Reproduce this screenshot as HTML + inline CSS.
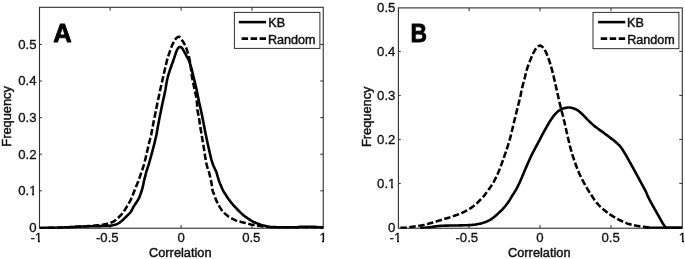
<!DOCTYPE html>
<html><head><meta charset="utf-8"><title>Figure</title>
<style>
html,body{margin:0;padding:0;background:#fff;}
svg{display:block}
text{font-family:"Liberation Sans",sans-serif;font-size:13px;fill:#111;stroke:#111;stroke-width:0.32px}
.lbl{font-size:12.8px;stroke-width:0.45px}
.tk{font-size:13.2px}
.lg{font-size:12.6px;stroke-width:0.45px}
.big{font-size:26.6px;font-weight:bold;fill:#000;stroke:#000;stroke-width:0.8px;stroke-linejoin:round}
.c{fill:none;stroke:#000;stroke-width:2.6;stroke-linejoin:round}
.d{stroke-dasharray:6.5 2.5;stroke-width:2.55}
</style></head><body>
<svg width="685" height="259" viewBox="0 0 685 259">
<rect width="685" height="259" fill="#fff"/>
<defs><clipPath id="ca"><rect x="39.5" y="7.3" width="283.75" height="221.54999999999998"/></clipPath>
<clipPath id="cb"><rect x="398.4" y="7.9" width="283.9" height="220.95"/></clipPath></defs>
<!-- Panel A -->
<rect x="39.5" y="7.3" width="283.75" height="220.95" fill="none" stroke="#2e2e2e" stroke-width="1.1"/>
<path d="M110.1,228.25 v-3.2 M110.1,7.3 v3.4" stroke="#2e2e2e" stroke-width="1"/>
<path d="M181.1,228.25 v-3.2 M181.1,7.3 v3.4" stroke="#2e2e2e" stroke-width="1"/>
<path d="M252.0,228.25 v-3.2 M252.0,7.3 v3.4" stroke="#2e2e2e" stroke-width="1"/>
<path d="M39.5,190.8 h2.4 M323.25,190.8 h-3" stroke="#2e2e2e" stroke-width="1"/>
<path d="M39.5,154.2 h2.4 M323.25,154.2 h-3" stroke="#2e2e2e" stroke-width="1"/>
<path d="M39.5,117.6 h2.4 M323.25,117.6 h-3" stroke="#2e2e2e" stroke-width="1"/>
<path d="M39.5,81.0 h2.4 M323.25,81.0 h-3" stroke="#2e2e2e" stroke-width="1"/>
<path d="M39.5,44.4 h2.4 M323.25,44.4 h-3" stroke="#2e2e2e" stroke-width="1"/>
<text class="tk" x="36.3" y="242.2" text-anchor="middle">-1</text>
<text class="tk" x="107.3" y="242.2" text-anchor="middle">-0.5</text>
<text class="tk" x="181.1" y="242.2" text-anchor="middle">0</text>
<text class="tk" x="251.3" y="242.2" text-anchor="middle">0.5</text>
<text class="tk" x="323.2" y="242.2" text-anchor="middle">1</text>
<text class="tk" x="36.5" y="231.7" text-anchor="end">0</text>
<text class="tk" x="36.5" y="195.1" text-anchor="end">0.1</text>
<text class="tk" x="36.5" y="158.5" text-anchor="end">0.2</text>
<text class="tk" x="36.5" y="121.9" text-anchor="end">0.3</text>
<text class="tk" x="36.5" y="85.3" text-anchor="end">0.4</text>
<text class="tk" x="36.5" y="48.7" text-anchor="end">0.5</text>
<g clip-path="url(#ca)"><path class="c" d="M39.70,227.95 L40.77,227.95 L41.85,227.94 L42.92,227.94 L44.00,227.93 L45.07,227.92 L46.14,227.90 L47.22,227.89 L48.29,227.87 L49.36,227.86 L50.44,227.84 L51.51,227.82 L52.58,227.80 L53.66,227.78 L54.73,227.76 L55.80,227.73 L56.88,227.71 L57.95,227.67 L59.02,227.64 L60.09,227.60 L61.17,227.56 L62.24,227.51 L63.31,227.46 L64.38,227.41 L65.46,227.36 L66.53,227.31 L67.60,227.26 L68.67,227.21 L69.75,227.16 L70.82,227.11 L71.89,227.06 L72.96,227.00 L74.04,226.94 L75.11,226.88 L76.18,226.82 L77.25,226.76 L78.32,226.70 L79.40,226.64 L80.47,226.59 L81.54,226.54 L82.61,226.50 L83.69,226.47 L84.76,226.43 L85.83,226.40 L86.91,226.37 L87.98,226.35 L89.05,226.32 L90.13,226.30 L91.20,226.27 L92.27,226.25 L93.35,226.22 L94.42,226.20 L95.49,226.18 L96.57,226.16 L97.64,226.14 L98.71,226.13 L99.79,226.11 L100.86,226.09 L101.93,226.07 L103.01,226.05 L104.08,226.03 L105.15,226.00 L106.23,225.95 L107.30,225.90 L108.37,225.83 L109.44,225.75 L110.51,225.65 L111.58,225.50 L112.64,225.30 L113.68,225.07 L114.72,224.81 L115.76,224.49 L116.79,224.10 L117.78,223.67 L118.71,223.20 L119.57,222.65 L120.40,222.02 L121.29,221.31 L122.17,220.55 L123.04,219.75 L123.89,218.92 L124.73,218.08 L125.57,217.26 L126.40,216.46 L127.24,215.66 L128.07,214.85 L128.88,214.03 L129.67,213.19 L130.43,212.33 L131.06,211.44 L131.59,210.52 L132.09,209.57 L132.59,208.61 L133.09,207.65 L133.62,206.72 L134.17,205.80 L134.74,204.88 L135.34,203.97 L135.94,203.06 L136.54,202.15 L137.14,201.24 L137.72,200.32 L138.29,199.40 L138.84,198.46 L139.28,197.52 L139.64,196.57 L139.99,195.61 L140.33,194.65 L140.67,193.69 L141.01,192.72 L141.33,191.74 L141.64,190.76 L141.94,189.78 L142.24,188.79 L142.52,187.80 L142.78,186.81 L143.02,185.81 L143.25,184.81 L143.46,183.80 L143.65,182.79 L143.83,181.77 L144.03,180.74 L144.31,179.72 L144.59,178.68 L144.86,177.65 L145.13,176.61 L145.38,175.56 L145.64,174.52 L145.89,173.47 L146.14,172.43 L146.44,171.38 L146.78,170.34 L147.13,169.29 L147.47,168.25 L147.82,167.21 L148.18,166.17 L148.53,165.13 L148.83,164.09 L149.13,163.05 L149.42,162.01 L149.71,160.97 L150.01,159.93 L150.30,158.89 L150.59,157.85 L150.88,156.81 L151.16,155.77 L151.45,154.73 L151.73,153.69 L152.01,152.64 L152.29,151.60 L152.56,150.56 L152.84,149.51 L153.12,148.47 L153.39,147.42 L153.66,146.37 L153.93,145.33 L154.19,144.28 L154.45,143.23 L154.70,142.18 L154.95,141.13 L155.20,140.07 L155.45,139.02 L155.70,137.97 L155.94,136.92 L156.18,135.86 L156.41,134.81 L156.60,133.75 L156.79,132.70 L156.98,131.64 L157.16,130.59 L157.35,129.53 L157.54,128.48 L157.73,127.42 L157.92,126.37 L158.11,125.32 L158.31,124.26 L158.50,123.21 L158.70,122.16 L158.89,121.10 L159.09,120.05 L159.30,119.00 L159.51,117.94 L159.72,116.89 L159.94,115.84 L160.15,114.79 L160.36,113.73 L160.57,112.68 L160.78,111.63 L161.00,110.57 L161.21,109.52 L161.43,108.47 L161.64,107.41 L161.86,106.36 L162.07,105.31 L162.30,104.26 L162.52,103.21 L162.75,102.16 L162.98,101.10 L163.21,100.05 L163.44,99.00 L163.67,97.95 L163.89,96.90 L164.12,95.85 L164.34,94.79 L164.57,93.74 L164.79,92.68 L165.02,91.63 L165.25,90.58 L165.45,89.53 L165.61,88.47 L165.78,87.42 L165.95,86.37 L166.13,85.32 L166.31,84.27 L166.49,83.22 L166.68,82.18 L166.87,81.13 L167.06,80.09 L167.31,79.05 L167.58,78.01 L167.84,76.97 L168.12,75.94 L168.40,74.91 L168.70,73.88 L169.01,72.85 L169.34,71.83 L169.67,70.80 L170.01,69.78 L170.35,68.76 L170.70,67.75 L171.05,66.73 L171.40,65.72 L171.76,64.71 L172.13,63.70 L172.51,62.69 L172.89,61.69 L173.26,60.68 L173.61,59.67 L173.96,58.65 L174.29,57.63 L174.62,56.61 L174.95,55.59 L175.30,54.57 L175.66,53.56 L176.01,52.53 L176.37,51.51 L176.77,50.51 L177.22,49.55 L177.76,48.61 L178.42,47.75 L179.30,47.12 L180.32,46.94 L181.34,47.39 L182.07,48.08 L182.66,49.03 L183.23,49.96 L183.77,50.89 L184.30,51.83 L184.81,52.77 L185.32,53.72 L185.82,54.66 L186.32,55.62 L186.81,56.57 L187.31,57.52 L187.84,58.46 L188.37,59.40 L188.84,60.36 L189.24,61.34 L189.60,62.35 L189.95,63.37 L190.27,64.39 L190.57,65.43 L190.87,66.47 L191.16,67.50 L191.45,68.54 L191.73,69.57 L191.99,70.61 L192.25,71.65 L192.51,72.70 L192.76,73.74 L193.01,74.79 L193.26,75.83 L193.51,76.87 L193.77,77.92 L194.02,78.96 L194.28,80.00 L194.53,81.05 L194.79,82.09 L195.04,83.13 L195.29,84.18 L195.54,85.22 L195.79,86.26 L196.04,87.31 L196.29,88.35 L196.54,89.40 L196.77,90.44 L196.98,91.49 L197.18,92.53 L197.38,93.58 L197.59,94.62 L197.79,95.67 L197.98,96.72 L198.18,97.76 L198.38,98.81 L198.57,99.86 L198.81,100.90 L199.05,101.95 L199.29,103.00 L199.52,104.05 L199.76,105.10 L199.99,106.14 L200.23,107.19 L200.46,108.24 L200.69,109.29 L200.92,110.34 L201.15,111.39 L201.38,112.44 L201.61,113.49 L201.84,114.55 L202.06,115.60 L202.28,116.65 L202.48,117.70 L202.69,118.75 L202.89,119.80 L203.10,120.85 L203.31,121.90 L203.51,122.95 L203.71,124.00 L203.91,125.06 L204.11,126.11 L204.31,127.16 L204.51,128.21 L204.71,129.27 L204.90,130.32 L205.11,131.37 L205.33,132.42 L205.55,133.48 L205.76,134.53 L205.98,135.58 L206.20,136.63 L206.42,137.69 L206.64,138.74 L206.86,139.79 L207.09,140.84 L207.31,141.89 L207.54,142.94 L207.76,143.99 L207.99,145.05 L208.22,146.10 L208.46,147.15 L208.71,148.21 L208.95,149.26 L209.19,150.32 L209.43,151.37 L209.67,152.43 L209.91,153.49 L210.16,154.54 L210.41,155.59 L210.66,156.65 L210.91,157.70 L211.17,158.75 L211.44,159.79 L211.75,160.84 L212.08,161.88 L212.42,162.92 L212.77,163.96 L213.12,164.99 L213.56,166.02 L214.02,167.04 L214.49,168.07 L214.97,169.09 L215.46,170.11 L215.96,171.13 L216.44,172.15 L216.70,173.16 L216.97,174.17 L217.25,175.18 L217.53,176.19 L217.83,177.19 L218.13,178.19 L218.44,179.19 L218.75,180.18 L219.08,181.17 L219.46,182.15 L219.84,183.13 L220.23,184.11 L220.63,185.09 L221.04,186.07 L221.46,187.05 L221.88,188.02 L222.32,188.99 L222.76,189.95 L223.27,190.91 L223.84,191.86 L224.42,192.81 L225.02,193.74 L225.62,194.67 L226.23,195.59 L226.82,196.50 L227.38,197.40 L227.98,198.29 L228.60,199.17 L229.24,200.04 L229.89,200.90 L230.56,201.75 L231.23,202.58 L231.91,203.41 L232.60,204.23 L233.30,205.05 L234.01,205.86 L234.73,206.66 L235.46,207.45 L236.20,208.23 L236.95,209.00 L237.71,209.75 L238.44,210.49 L239.15,211.22 L239.87,211.94 L240.60,212.65 L241.35,213.35 L242.11,214.04 L242.88,214.72 L243.66,215.39 L244.46,216.04 L245.32,216.68 L246.19,217.29 L247.07,217.90 L247.96,218.51 L248.86,219.11 L249.77,219.70 L250.69,220.27 L251.62,220.81 L252.56,221.34 L253.51,221.83 L254.47,222.28 L255.44,222.72 L256.42,223.13 L257.42,223.54 L258.43,223.92 L259.45,224.29 L260.47,224.64 L261.50,224.97 L262.53,225.27 L263.57,225.54 L264.60,225.80 L265.65,226.06 L266.70,226.31 L267.76,226.54 L268.82,226.74 L269.88,226.89 L270.94,226.99 L272.01,227.03 L273.07,227.07 L274.14,227.11 L275.21,227.15 L276.29,227.18 L277.36,227.21 L278.44,227.23 L279.51,227.25 L280.59,227.27 L281.67,227.28 L282.74,227.29 L283.82,227.30 L284.89,227.30 L285.97,227.30 L287.04,227.30 L288.11,227.29 L289.19,227.28 L290.26,227.28 L291.34,227.27 L292.41,227.25 L293.48,227.24 L294.56,227.22 L295.63,227.21 L296.70,227.18 L297.77,227.10 L298.84,227.00 L299.91,226.89 L300.98,226.79 L302.05,226.72 L303.13,226.70 L304.20,226.70 L305.27,226.70 L306.35,226.70 L307.42,226.70 L308.50,226.70 L309.57,226.70 L310.64,226.70 L311.72,226.70 L312.79,226.72 L313.86,226.79 L314.93,226.90 L315.99,227.03 L317.06,227.13 L318.14,227.21 L319.21,227.26 L320.28,227.31 L321.35,227.35 L322.43,227.38 L323.50,227.40"/>
<path class="c d" d="M39.70,227.95 L40.82,227.95 L41.94,227.94 L43.06,227.94 L44.18,227.93 L45.31,227.91 L46.43,227.90 L47.55,227.88 L48.67,227.87 L49.79,227.85 L50.91,227.83 L52.03,227.81 L53.15,227.79 L54.27,227.76 L55.39,227.74 L56.51,227.72 L57.63,227.68 L58.75,227.65 L59.88,227.61 L61.00,227.57 L62.12,227.52 L63.24,227.47 L64.36,227.42 L65.48,227.37 L66.60,227.32 L67.72,227.26 L68.84,227.21 L69.96,227.15 L71.07,227.10 L72.19,227.04 L73.31,226.98 L74.43,226.92 L75.55,226.85 L76.67,226.78 L77.79,226.71 L78.91,226.64 L80.03,226.57 L81.15,226.50 L82.27,226.43 L83.38,226.36 L84.50,226.29 L85.62,226.22 L86.74,226.15 L87.86,226.08 L88.98,226.01 L90.10,225.94 L91.22,225.86 L92.34,225.78 L93.45,225.69 L94.57,225.59 L95.69,225.50 L96.81,225.39 L97.93,225.28 L99.05,225.16 L100.16,225.03 L101.31,224.89 L102.47,224.73 L103.62,224.56 L104.78,224.35 L105.97,224.11 L107.17,223.82 L108.37,223.49 L109.57,223.13 L110.73,222.73 L111.86,222.29 L112.95,221.80 L114.05,221.19 L115.02,220.50 L115.98,219.74 L116.93,218.93 L117.86,218.11 L118.72,217.29 L119.51,216.49 L120.30,215.69 L121.07,214.88 L121.83,214.04 L122.56,213.19 L123.26,212.32 L123.90,211.43 L124.49,210.53 L125.06,209.60 L125.62,208.67 L126.18,207.73 L126.73,206.80 L127.29,205.86 L127.84,204.93 L128.41,203.99 L128.97,203.04 L129.51,202.09 L130.03,201.13 L130.52,200.16 L130.98,199.17 L131.42,198.18 L131.87,197.17 L132.31,196.16 L132.73,195.13 L133.15,194.10 L133.55,193.06 L133.95,192.02 L134.34,190.98 L134.75,189.93 L135.18,188.88 L135.60,187.83 L136.03,186.78 L136.46,185.73 L136.89,184.69 L137.32,183.64 L137.76,182.60 L138.20,181.56 L138.60,180.52 L138.96,179.47 L139.32,178.43 L139.67,177.38 L140.03,176.33 L140.37,175.28 L140.71,174.23 L141.04,173.18 L141.36,172.12 L141.76,171.07 L142.16,170.01 L142.55,168.94 L142.92,167.88 L143.28,166.81 L143.62,165.73 L143.95,164.65 L144.24,163.57 L144.53,162.48 L144.81,161.39 L145.08,160.30 L145.35,159.21 L145.61,158.11 L145.86,157.01 L146.12,155.91 L146.37,154.81 L146.63,153.71 L146.88,152.61 L147.14,151.51 L147.40,150.42 L147.64,149.32 L147.87,148.23 L148.11,147.13 L148.36,146.04 L148.62,144.96 L148.88,143.87 L149.15,142.78 L149.42,141.70 L149.70,140.62 L149.98,139.54 L150.26,138.45 L150.55,137.37 L150.83,136.29 L151.12,135.21 L151.33,134.13 L151.52,133.05 L151.71,131.97 L151.90,130.89 L152.08,129.80 L152.26,128.72 L152.46,127.63 L152.69,126.55 L152.92,125.46 L153.14,124.37 L153.36,123.28 L153.56,122.19 L153.77,121.10 L153.96,120.00 L154.20,118.91 L154.44,117.81 L154.67,116.71 L154.89,115.61 L155.12,114.51 L155.34,113.41 L155.56,112.31 L155.78,111.21 L156.00,110.11 L156.22,109.01 L156.44,107.91 L156.66,106.80 L156.88,105.70 L157.10,104.60 L157.32,103.50 L157.55,102.40 L157.78,101.30 L158.01,100.20 L158.25,99.11 L158.48,98.01 L158.72,96.91 L158.95,95.81 L159.19,94.72 L159.43,93.62 L159.66,92.52 L159.90,91.42 L160.14,90.33 L160.38,89.23 L160.62,88.13 L160.86,87.04 L161.11,85.94 L161.35,84.85 L161.60,83.75 L161.85,82.66 L162.09,81.56 L162.35,80.47 L162.60,79.37 L162.85,78.28 L163.11,77.19 L163.37,76.10 L163.63,75.00 L163.87,73.91 L164.10,72.82 L164.34,71.73 L164.59,70.64 L164.83,69.55 L165.08,68.46 L165.33,67.38 L165.58,66.29 L165.84,65.20 L166.09,64.12 L166.36,63.03 L166.62,61.95 L166.89,60.87 L167.16,59.78 L167.49,58.70 L167.82,57.61 L168.16,56.53 L168.50,55.45 L168.85,54.37 L169.21,53.30 L169.59,52.23 L169.94,51.17 L170.31,50.11 L170.68,49.04 L171.07,47.99 L171.47,46.93 L171.89,45.89 L172.33,44.86 L172.79,43.84 L173.28,42.84 L173.79,41.83 L174.33,40.81 L174.93,39.84 L175.58,38.95 L176.34,38.15 L177.28,37.31 L178.25,36.76 L179.12,36.84 L179.95,37.55 L180.74,38.56 L181.47,39.56 L182.15,40.43 L182.80,41.35 L183.43,42.29 L184.02,43.26 L184.57,44.24 L185.08,45.24 L185.54,46.24 L185.97,47.27 L186.38,48.32 L186.76,49.38 L187.12,50.45 L187.46,51.53 L187.79,52.60 L188.09,53.67 L188.38,54.75 L188.67,55.84 L188.94,56.93 L189.20,58.02 L189.45,59.12 L189.68,60.22 L189.90,61.32 L190.10,62.42 L190.29,63.52 L190.46,64.63 L190.61,65.74 L190.76,66.85 L190.89,67.96 L191.02,69.08 L191.15,70.19 L191.28,71.31 L191.41,72.42 L191.55,73.54 L191.70,74.65 L191.86,75.76 L192.04,76.86 L192.22,77.97 L192.42,79.07 L192.63,80.17 L192.85,81.27 L193.07,82.37 L193.30,83.47 L193.54,84.56 L193.78,85.66 L194.02,86.76 L194.26,87.85 L194.50,88.95 L194.75,90.04 L194.99,91.14 L195.22,92.24 L195.46,93.34 L195.68,94.43 L195.90,95.53 L196.12,96.63 L196.32,97.73 L196.51,98.84 L196.69,99.94 L196.80,101.05 L196.90,102.16 L196.99,103.26 L197.07,104.37 L197.15,105.49 L197.23,106.60 L197.30,107.71 L197.37,108.82 L197.44,109.94 L197.65,111.05 L197.86,112.16 L198.08,113.28 L198.30,114.39 L198.52,115.51 L198.74,116.62 L198.97,117.73 L199.13,118.84 L199.28,119.95 L199.44,121.06 L199.60,122.17 L199.76,123.28 L199.93,124.39 L200.10,125.50 L200.28,126.60 L200.45,127.71 L200.63,128.82 L200.81,129.92 L200.99,131.03 L201.18,132.14 L201.36,133.24 L201.55,134.35 L201.74,135.45 L201.93,136.56 L202.11,137.66 L202.30,138.77 L202.49,139.88 L202.68,140.98 L202.86,142.09 L203.05,143.19 L203.23,144.30 L203.41,145.41 L203.59,146.51 L203.77,147.62 L203.94,148.73 L204.11,149.84 L204.28,150.95 L204.45,152.06 L204.62,153.17 L204.79,154.28 L204.97,155.39 L205.15,156.50 L205.33,157.61 L205.51,158.71 L205.70,159.82 L205.90,160.92 L206.10,162.02 L206.31,163.12 L206.53,164.22 L206.77,165.31 L207.09,166.40 L207.42,167.49 L207.78,168.57 L208.15,169.65 L208.53,170.73 L208.93,171.80 L209.20,172.87 L209.45,173.94 L209.70,175.02 L209.96,176.09 L210.20,177.16 L210.45,178.23 L210.70,179.31 L210.95,180.39 L211.17,181.47 L211.38,182.55 L211.57,183.64 L211.75,184.74 L211.91,185.84 L212.06,186.95 L212.21,188.05 L212.35,189.16 L212.50,190.27 L212.86,191.37 L213.29,192.47 L213.72,193.57 L214.18,194.65 L214.52,195.72 L214.83,196.78 L215.18,197.83 L215.58,198.87 L216.02,199.90 L216.49,200.93 L216.99,201.94 L217.51,202.95 L218.04,203.94 L218.56,204.93 L219.10,205.92 L219.65,206.90 L220.23,207.86 L220.84,208.81 L221.47,209.73 L222.15,210.61 L222.87,211.48 L223.63,212.31 L224.41,213.11 L225.22,213.88 L226.06,214.63 L226.93,215.34 L227.83,216.01 L228.75,216.65 L229.70,217.25 L230.66,217.83 L231.64,218.38 L232.63,218.91 L233.63,219.43 L234.65,219.91 L235.68,220.34 L236.72,220.71 L237.79,221.04 L238.86,221.35 L239.95,221.63 L241.04,221.90 L242.14,222.16 L243.23,222.43 L244.32,222.71 L245.41,223.00 L246.49,223.30 L247.57,223.60 L248.65,223.89 L249.74,224.16 L250.83,224.41 L251.93,224.63 L253.03,224.85 L254.13,225.06 L255.23,225.26 L256.34,225.45 L257.45,225.62 L258.56,225.79 L259.67,225.94 L260.78,226.09 L261.89,226.23 L263.00,226.38 L264.12,226.52 L265.23,226.66 L266.35,226.78 L267.46,226.90 L268.58,227.00 L269.70,227.09 L270.82,227.15 L271.93,227.20 L273.05,227.23 L274.17,227.26 L275.29,227.28 L276.41,227.31 L277.53,227.33 L278.66,227.35 L279.78,227.36 L280.90,227.38 L282.02,227.39 L283.14,227.40 L284.26,227.40 L285.39,227.40 L286.51,227.40 L287.63,227.39 L288.75,227.38 L289.87,227.38 L290.99,227.36 L292.11,227.35 L293.23,227.34 L294.35,227.33 L295.47,227.32 L296.60,227.31 L297.72,227.31 L298.84,227.30 L299.96,227.30 L301.08,227.30 L302.20,227.30 L303.32,227.30 L304.44,227.30 L305.56,227.31 L306.68,227.31 L307.81,227.31 L308.93,227.32 L310.05,227.32 L311.17,227.33 L312.29,227.34 L313.41,227.34 L314.53,227.35 L315.65,227.36 L316.77,227.37 L317.89,227.38 L319.02,227.39 L320.14,227.41 L321.26,227.42 L322.38,227.43 L323.50,227.45" stroke-dashoffset="0.84"/></g>
<text class="big" transform="translate(53.3,42.2) scale(0.96,1)">A</text>
<text class="lbl" x="180.3" y="256.6" text-anchor="middle">Correlation</text>
<text class="lbl" transform="translate(11.3,116.4) rotate(-90)" text-anchor="middle">Frequency</text>
<rect x="234.4" y="12.4" width="85.5" height="36.0" fill="#fff" stroke="#2e2e2e" stroke-width="1"/>
<path class="c" d="M238.8,22.1 H266"/>
<path class="c" stroke-dasharray="6.5 2.5" style="stroke-width:2.7" d="M241.6,38.7 H266"/>
<text class="lg" x="268.3" y="26.7">KB</text>
<text class="lg" x="268.0" y="44.3">Random</text>
<!-- Panel B -->
<rect x="398.4" y="7.9" width="283.9" height="220.35" fill="none" stroke="#2e2e2e" stroke-width="1.1"/>
<path d="M469.1,228.25 v-3.2 M469.1,7.9 v3.4" stroke="#2e2e2e" stroke-width="1"/>
<path d="M540.0,228.25 v-3.2 M540.0,7.9 v3.4" stroke="#2e2e2e" stroke-width="1"/>
<path d="M611.0,228.25 v-3.2 M611.0,7.9 v3.4" stroke="#2e2e2e" stroke-width="1"/>
<path d="M398.4,183.4 h2.4 M682.3,183.4 h-3" stroke="#2e2e2e" stroke-width="1"/>
<path d="M398.4,139.4 h2.4 M682.3,139.4 h-3" stroke="#2e2e2e" stroke-width="1"/>
<path d="M398.4,95.4 h2.4 M682.3,95.4 h-3" stroke="#2e2e2e" stroke-width="1"/>
<path d="M398.4,51.4 h2.4 M682.3,51.4 h-3" stroke="#2e2e2e" stroke-width="1"/>
<text class="tk" x="395.4" y="242.2" text-anchor="middle">-1</text>
<text class="tk" x="466.8" y="242.2" text-anchor="middle">-0.5</text>
<text class="tk" x="540.0" y="242.2" text-anchor="middle">0</text>
<text class="tk" x="610.7" y="242.2" text-anchor="middle">0.5</text>
<text class="tk" x="682.3" y="242.2" text-anchor="middle">1</text>
<text class="tk" x="395.4" y="231.7" text-anchor="end">0</text>
<text class="tk" x="395.4" y="187.7" text-anchor="end">0.1</text>
<text class="tk" x="395.4" y="143.7" text-anchor="end">0.2</text>
<text class="tk" x="395.4" y="99.7" text-anchor="end">0.3</text>
<text class="tk" x="395.4" y="55.7" text-anchor="end">0.4</text>
<text class="tk" x="395.4" y="11.7" text-anchor="end">0.5</text>
<g clip-path="url(#cb)"><path class="c" d="M420.00,228.00 L420.78,227.96 L421.55,227.92 L422.33,227.87 L423.10,227.82 L423.87,227.77 L424.65,227.70 L425.42,227.64 L426.19,227.57 L426.97,227.50 L427.74,227.43 L428.51,227.35 L429.28,227.27 L430.05,227.19 L430.82,227.10 L431.59,227.00 L432.35,226.88 L433.12,226.76 L433.89,226.63 L434.65,226.51 L435.42,226.39 L436.19,226.29 L436.96,226.20 L437.73,226.13 L438.50,226.05 L439.27,225.98 L440.05,225.92 L440.82,225.85 L441.60,225.80 L442.37,225.75 L443.14,225.72 L443.92,225.69 L444.69,225.67 L445.47,225.65 L446.24,225.63 L447.02,225.61 L447.79,225.60 L448.57,225.58 L449.34,225.57 L450.12,225.56 L450.89,225.55 L451.67,225.54 L452.45,225.53 L453.22,225.52 L454.00,225.51 L454.77,225.50 L455.55,225.48 L456.33,225.47 L457.10,225.46 L457.88,225.45 L458.65,225.43 L459.43,225.41 L460.20,225.39 L460.98,225.38 L461.75,225.36 L462.53,225.34 L463.31,225.31 L464.08,225.29 L464.86,225.27 L465.64,225.24 L466.41,225.22 L467.19,225.19 L467.96,225.15 L468.74,225.12 L469.51,225.08 L470.28,225.04 L471.05,225.00 L471.82,224.94 L472.60,224.87 L473.37,224.79 L474.15,224.70 L474.92,224.60 L475.69,224.48 L476.46,224.36 L477.23,224.23 L477.99,224.09 L478.75,223.94 L479.51,223.79 L480.26,223.63 L481.01,223.46 L481.76,223.27 L482.51,223.06 L483.26,222.83 L484.00,222.58 L484.74,222.31 L485.48,222.03 L486.21,221.74 L486.93,221.43 L487.63,221.11 L488.33,220.78 L489.01,220.45 L489.68,220.10 L490.34,219.72 L490.99,219.31 L491.62,218.87 L492.25,218.41 L492.87,217.94 L493.49,217.45 L494.10,216.94 L494.70,216.44 L495.29,215.92 L495.89,215.41 L496.48,214.91 L497.06,214.40 L497.65,213.90 L498.23,213.38 L498.80,212.86 L499.38,212.33 L499.95,211.80 L500.51,211.26 L501.07,210.72 L501.62,210.17 L502.16,209.61 L502.70,209.05 L503.22,208.48 L503.74,207.91 L504.25,207.33 L504.74,206.74 L505.23,206.14 L505.71,205.54 L506.18,204.92 L506.65,204.30 L507.11,203.68 L507.56,203.04 L508.01,202.41 L508.46,201.77 L508.91,201.13 L509.35,200.49 L509.78,199.86 L510.15,199.22 L510.52,198.59 L510.90,197.96 L511.27,197.32 L511.64,196.69 L512.02,196.06 L512.39,195.42 L512.78,194.78 L513.22,194.14 L513.65,193.50 L514.08,192.86 L514.49,192.21 L514.91,191.55 L515.31,190.90 L515.70,190.24 L516.09,189.57 L516.46,188.89 L516.82,188.21 L517.18,187.53 L517.52,186.83 L517.87,186.14 L518.21,185.44 L518.54,184.75 L518.88,184.05 L519.22,183.36 L519.54,182.66 L519.86,181.96 L520.17,181.26 L520.48,180.56 L520.79,179.86 L521.10,179.16 L521.40,178.45 L521.71,177.75 L522.01,177.04 L522.31,176.34 L522.61,175.63 L522.91,174.93 L523.21,174.22 L523.50,173.51 L523.80,172.80 L524.09,172.09 L524.38,171.38 L524.66,170.67 L524.95,169.96 L525.27,169.25 L525.58,168.53 L525.89,167.82 L526.20,167.11 L526.52,166.39 L526.83,165.68 L527.14,164.96 L527.45,164.25 L527.77,163.54 L528.08,162.82 L528.40,162.11 L528.72,161.40 L529.04,160.69 L529.36,159.98 L529.69,159.27 L530.01,158.56 L530.34,157.86 L530.67,157.15 L530.99,156.44 L531.32,155.74 L531.65,155.03 L532.01,154.32 L532.38,153.62 L532.74,152.91 L533.10,152.21 L533.47,151.50 L533.83,150.80 L534.20,150.09 L534.57,149.39 L534.93,148.69 L535.30,147.99 L535.67,147.28 L536.05,146.58 L536.42,145.88 L536.79,145.18 L537.17,144.47 L537.54,143.77 L537.92,143.07 L538.30,142.37 L538.68,141.67 L539.06,140.97 L539.44,140.28 L539.81,139.58 L540.15,138.89 L540.50,138.20 L540.86,137.51 L541.21,136.82 L541.57,136.13 L541.93,135.45 L542.30,134.76 L542.66,134.08 L543.03,133.39 L543.40,132.71 L543.77,132.03 L544.14,131.35 L544.52,130.67 L544.90,130.00 L545.28,129.32 L545.66,128.64 L546.04,127.97 L546.42,127.29 L546.80,126.61 L547.18,125.94 L547.57,125.26 L547.96,124.59 L548.35,123.92 L548.74,123.25 L549.14,122.59 L549.55,121.93 L549.95,121.27 L550.37,120.61 L550.79,119.97 L551.22,119.32 L551.65,118.67 L552.09,118.03 L552.54,117.39 L552.99,116.76 L553.46,116.14 L553.94,115.54 L554.44,114.95 L554.96,114.37 L555.48,113.79 L556.02,113.22 L556.58,112.66 L557.15,112.12 L557.73,111.60 L558.33,111.11 L558.95,110.67 L559.58,110.26 L560.24,109.85 L560.93,109.46 L561.64,109.10 L562.36,108.78 L563.09,108.51 L563.82,108.30 L564.56,108.12 L565.32,107.95 L566.09,107.80 L566.86,107.66 L567.64,107.57 L568.41,107.51 L569.18,107.51 L569.95,107.57 L570.73,107.68 L571.50,107.84 L572.26,108.02 L573.00,108.20 L573.74,108.41 L574.48,108.68 L575.20,108.98 L575.91,109.32 L576.60,109.68 L577.26,110.05 L577.90,110.46 L578.53,110.90 L579.14,111.38 L579.74,111.88 L580.33,112.39 L580.91,112.93 L581.49,113.46 L582.06,114.00 L582.63,114.54 L583.19,115.07 L583.73,115.62 L584.27,116.17 L584.80,116.74 L585.33,117.31 L585.85,117.89 L586.38,118.46 L586.92,119.02 L587.47,119.57 L588.02,120.11 L588.57,120.65 L589.13,121.19 L589.69,121.73 L590.26,122.26 L590.82,122.80 L591.39,123.33 L591.97,123.85 L592.54,124.37 L593.12,124.88 L593.71,125.39 L594.30,125.89 L594.90,126.38 L595.50,126.86 L596.11,127.33 L596.73,127.80 L597.35,128.26 L597.98,128.72 L598.61,129.17 L599.25,129.62 L599.88,130.06 L600.52,130.51 L601.15,130.96 L601.78,131.42 L602.41,131.88 L603.03,132.34 L603.65,132.80 L604.28,133.26 L604.90,133.72 L605.53,134.18 L606.15,134.64 L606.77,135.10 L607.40,135.56 L608.02,136.03 L608.64,136.49 L609.26,136.96 L609.87,137.43 L610.49,137.90 L611.11,138.37 L611.74,138.83 L612.36,139.30 L612.98,139.77 L613.60,140.24 L614.21,140.72 L614.81,141.20 L615.41,141.70 L615.99,142.21 L616.56,142.73 L617.12,143.26 L617.69,143.79 L618.24,144.34 L618.79,144.90 L619.32,145.47 L619.84,146.05 L620.34,146.64 L620.83,147.23 L621.29,147.84 L621.74,148.47 L622.18,149.11 L622.61,149.75 L623.03,150.41 L623.44,151.07 L623.85,151.74 L624.25,152.40 L624.66,153.07 L625.06,153.73 L625.46,154.39 L625.86,155.06 L626.25,155.73 L626.63,156.40 L627.02,157.07 L627.40,157.75 L627.78,158.42 L628.16,159.10 L628.54,159.78 L628.91,160.46 L629.29,161.14 L629.66,161.82 L630.04,162.50 L630.42,163.17 L630.80,163.85 L631.17,164.53 L631.55,165.21 L631.93,165.88 L632.30,166.56 L632.68,167.24 L633.05,167.92 L633.42,168.60 L633.80,169.28 L634.17,169.96 L634.54,170.64 L634.91,171.32 L635.29,172.00 L635.66,172.68 L636.03,173.36 L636.40,174.05 L636.77,174.73 L637.14,175.41 L637.51,176.09 L637.88,176.77 L638.25,177.45 L638.62,178.14 L638.98,178.82 L639.35,179.50 L639.72,180.19 L640.09,180.87 L640.45,181.55 L640.82,182.23 L641.19,182.92 L641.55,183.60 L641.92,184.28 L642.29,184.97 L642.66,185.65 L643.04,186.33 L643.42,187.00 L643.80,187.68 L644.17,188.36 L644.55,189.04 L644.91,189.73 L645.27,190.41 L645.61,191.11 L645.94,191.81 L646.25,192.52 L646.54,193.24 L646.84,193.95 L647.13,194.67 L647.43,195.39 L647.75,196.09 L648.08,196.79 L648.42,197.49 L648.77,198.18 L649.12,198.88 L649.47,199.56 L649.83,200.25 L650.20,200.93 L650.57,201.62 L650.94,202.30 L651.31,202.98 L651.69,203.66 L652.06,204.34 L652.44,205.02 L652.81,205.70 L653.19,206.38 L653.56,207.06 L653.94,207.74 L654.32,208.41 L654.69,209.09 L655.08,209.77 L655.46,210.44 L655.84,211.11 L656.23,211.79 L656.61,212.46 L657.00,213.13 L657.38,213.81 L657.77,214.48 L658.16,215.15 L658.55,215.82 L658.94,216.49 L659.32,217.17 L659.70,217.85 L660.07,218.53 L660.44,219.22 L660.81,219.91 L661.18,220.60 L661.56,221.29 L661.94,221.97 L662.33,222.64 L662.73,223.31 L663.14,223.96 L663.57,224.60 L664.01,225.22 L664.48,225.84 L664.97,226.57 L665.51,227.25 L666.08,227.66 L666.69,227.70 L667.31,227.70 L667.94,227.70 L668.59,227.70 L669.26,227.70 L669.94,227.70 L670.63,227.70 L671.35,227.70 L672.07,227.70 L672.82,227.70 L673.58,227.70 L674.37,227.70 L675.17,227.70 L675.98,227.70 L676.82,227.70 L677.68,227.70 L678.56,227.70 L679.46,227.70 L680.39,227.70 L681.33,227.70 L682.30,227.70"/>
<path class="c" d="M645,227.7 H682.3"/>
<path class="c d" d="M398.40,227.90 L399.38,227.89 L400.35,227.87 L401.33,227.84 L402.30,227.80 L403.27,227.76 L404.24,227.70 L405.21,227.65 L406.18,227.59 L407.15,227.51 L408.12,227.40 L409.08,227.28 L410.05,227.14 L411.01,226.99 L411.98,226.85 L412.94,226.71 L413.91,226.57 L414.87,226.44 L415.84,226.31 L416.80,226.18 L417.77,226.04 L418.73,225.89 L419.70,225.75 L420.66,225.59 L421.61,225.42 L422.57,225.24 L423.52,225.05 L424.47,224.84 L425.41,224.61 L426.35,224.36 L427.29,224.11 L428.23,223.84 L429.17,223.57 L430.11,223.29 L431.04,223.02 L431.98,222.75 L432.91,222.48 L433.85,222.21 L434.79,221.94 L435.72,221.67 L436.65,221.39 L437.59,221.11 L438.52,220.83 L439.45,220.54 L440.38,220.26 L441.31,219.97 L442.24,219.69 L443.17,219.40 L444.10,219.12 L445.03,218.83 L445.97,218.54 L446.90,218.26 L447.83,217.96 L448.75,217.67 L449.68,217.37 L450.61,217.07 L451.53,216.76 L452.45,216.45 L453.37,216.13 L454.30,215.82 L455.22,215.50 L456.14,215.17 L457.06,214.85 L457.98,214.51 L458.89,214.16 L459.79,213.81 L460.69,213.44 L461.58,213.05 L462.46,212.66 L463.34,212.24 L464.22,211.81 L465.09,211.37 L465.95,210.91 L466.81,210.44 L467.67,209.96 L468.51,209.46 L469.34,208.96 L470.16,208.44 L470.97,207.92 L471.77,207.38 L472.56,206.81 L473.34,206.23 L474.11,205.63 L474.88,205.02 L475.63,204.40 L476.36,203.76 L477.03,203.12 L477.70,202.48 L478.35,201.83 L479.01,201.17 L479.66,200.51 L480.30,199.84 L480.94,199.16 L481.57,198.47 L482.21,197.77 L482.88,197.06 L483.54,196.34 L484.18,195.60 L484.80,194.86 L485.40,194.09 L485.99,193.31 L486.57,192.52 L487.14,191.71 L487.70,190.90 L488.31,190.07 L488.92,189.25 L489.51,188.41 L490.10,187.58 L490.68,186.74 L491.25,185.90 L491.81,185.06 L492.37,184.21 L492.92,183.35 L493.42,182.49 L493.89,181.63 L494.34,180.76 L494.80,179.88 L495.24,179.01 L495.68,178.13 L496.11,177.25 L496.53,176.36 L496.95,175.48 L497.35,174.59 L497.75,173.70 L498.14,172.80 L498.52,171.90 L498.90,171.00 L499.27,170.09 L499.62,169.18 L499.97,168.27 L500.31,167.36 L500.66,166.44 L501.00,165.53 L501.34,164.62 L501.68,163.71 L502.01,162.79 L502.34,161.88 L502.67,160.96 L502.99,160.04 L503.31,159.12 L503.64,158.20 L503.96,157.29 L504.28,156.37 L504.61,155.45 L504.93,154.53 L505.25,153.61 L505.58,152.69 L505.90,151.77 L506.22,150.85 L506.53,149.93 L506.84,149.01 L507.15,148.08 L507.45,147.16 L507.74,146.23 L508.03,145.30 L508.32,144.37 L508.60,143.44 L508.88,142.51 L509.16,141.57 L509.43,140.64 L509.70,139.70 L509.96,138.76 L510.21,137.82 L510.46,136.88 L510.71,135.94 L510.95,135.00 L511.18,134.05 L511.41,133.11 L511.64,132.16 L511.87,131.21 L512.09,130.27 L512.31,129.32 L512.53,128.37 L512.75,127.42 L512.97,126.47 L513.19,125.52 L513.41,124.57 L513.64,123.63 L513.86,122.68 L514.09,121.73 L514.32,120.79 L514.56,119.84 L514.79,118.90 L515.02,117.95 L515.26,117.01 L515.49,116.06 L515.73,115.12 L515.96,114.17 L516.20,113.23 L516.43,112.28 L516.67,111.34 L516.90,110.39 L517.14,109.45 L517.38,108.50 L517.61,107.56 L517.85,106.61 L518.08,105.67 L518.32,104.72 L518.55,103.78 L518.78,102.83 L519.02,101.89 L519.25,100.94 L519.49,100.00 L519.72,99.05 L519.95,98.11 L520.19,97.16 L520.43,96.22 L520.67,95.27 L520.84,94.33 L520.98,93.39 L521.13,92.44 L521.28,91.50 L521.43,90.56 L521.62,89.62 L521.87,88.68 L522.13,87.74 L522.38,86.80 L522.63,85.86 L522.89,84.92 L523.14,83.98 L523.39,83.03 L523.64,82.09 L523.89,81.15 L524.14,80.21 L524.39,79.27 L524.62,78.32 L524.86,77.38 L525.08,76.43 L525.31,75.48 L525.54,74.53 L525.77,73.59 L526.01,72.64 L526.25,71.70 L526.51,70.76 L526.77,69.83 L527.05,68.90 L527.35,67.97 L527.66,67.05 L527.98,66.13 L528.31,65.21 L528.65,64.30 L529.00,63.39 L529.35,62.48 L529.71,61.57 L530.07,60.67 L530.43,59.77 L530.80,58.86 L531.17,57.96 L531.54,57.05 L531.92,56.15 L532.31,55.25 L532.71,54.37 L533.13,53.49 L533.56,52.62 L534.02,51.77 L534.49,50.91 L534.98,50.03 L535.50,49.17 L536.06,48.36 L536.66,47.63 L537.34,46.99 L538.15,46.32 L539.03,45.79 L539.90,45.60 L540.81,45.85 L541.72,46.36 L542.53,46.95 L543.20,47.57 L543.80,48.34 L544.35,49.19 L544.86,50.06 L545.32,50.91 L545.76,51.77 L546.17,52.64 L546.57,53.54 L546.94,54.44 L547.31,55.35 L547.65,56.27 L548.00,57.19 L548.33,58.10 L548.66,59.02 L548.98,59.94 L549.29,60.86 L549.60,61.78 L549.89,62.71 L550.18,63.64 L550.47,64.57 L550.75,65.51 L551.02,66.45 L551.29,67.38 L551.55,68.32 L551.81,69.26 L552.06,70.20 L552.30,71.14 L552.55,72.08 L552.78,73.03 L553.01,73.97 L553.24,74.92 L553.47,75.87 L553.69,76.81 L553.92,77.76 L554.14,78.71 L554.37,79.66 L554.59,80.61 L554.81,81.55 L555.03,82.50 L555.25,83.45 L555.46,84.40 L555.68,85.35 L555.89,86.30 L556.10,87.25 L556.32,88.20 L556.53,89.15 L556.74,90.10 L556.96,91.05 L557.17,92.00 L557.38,92.95 L557.60,93.90 L557.82,94.85 L558.03,95.80 L558.25,96.75 L558.46,97.70 L558.67,98.65 L558.89,99.60 L559.10,100.55 L559.32,101.50 L559.54,102.45 L559.76,103.40 L559.98,104.34 L560.20,105.29 L560.42,106.24 L560.65,107.19 L560.88,108.13 L561.12,109.08 L561.36,110.02 L561.61,110.96 L561.85,111.90 L562.10,112.84 L562.35,113.79 L562.60,114.73 L562.84,115.67 L563.08,116.61 L563.31,117.56 L563.54,118.51 L563.77,119.45 L564.00,120.40 L564.22,121.35 L564.44,122.29 L564.66,123.24 L564.88,124.19 L565.10,125.14 L565.32,126.09 L565.54,127.04 L565.76,127.99 L565.97,128.94 L566.19,129.89 L566.40,130.84 L566.61,131.79 L566.82,132.74 L567.04,133.69 L567.25,134.64 L567.47,135.59 L567.69,136.53 L567.91,137.48 L568.14,138.43 L568.36,139.38 L568.58,140.33 L568.81,141.27 L569.03,142.22 L569.26,143.17 L569.49,144.12 L569.72,145.06 L569.96,146.01 L570.19,146.95 L570.44,147.90 L570.68,148.84 L570.94,149.78 L571.19,150.72 L571.46,151.65 L571.73,152.58 L572.01,153.52 L572.30,154.44 L572.59,155.37 L572.89,156.30 L573.20,157.22 L573.51,158.15 L573.83,159.07 L574.15,159.99 L574.47,160.91 L574.79,161.83 L575.11,162.75 L575.43,163.67 L575.76,164.58 L576.09,165.50 L576.42,166.42 L576.75,167.34 L577.09,168.25 L577.44,169.16 L577.80,170.06 L578.16,170.96 L578.54,171.86 L578.93,172.75 L579.34,173.63 L579.75,174.52 L580.18,175.39 L580.60,176.27 L581.02,177.15 L581.45,178.03 L581.90,178.91 L582.36,179.79 L582.81,180.66 L583.27,181.54 L583.73,182.42 L584.20,183.29 L584.67,184.17 L585.14,185.04 L585.62,185.90 L586.11,186.76 L586.61,187.62 L587.12,188.46 L587.63,189.31 L588.16,190.16 L588.69,191.00 L589.23,191.85 L589.77,192.69 L590.32,193.52 L590.88,194.35 L591.45,195.17 L592.03,195.99 L592.51,196.79 L593.00,197.58 L593.50,198.37 L594.02,199.14 L594.55,199.90 L595.10,200.66 L595.67,201.41 L596.25,202.15 L596.84,202.88 L597.45,203.60 L598.07,204.32 L598.69,205.02 L599.32,205.70 L599.99,206.38 L600.70,207.05 L601.41,207.71 L602.14,208.36 L602.88,209.00 L603.63,209.63 L604.38,210.25 L605.14,210.86 L605.91,211.46 L606.68,212.06 L607.45,212.64 L608.24,213.21 L609.03,213.78 L609.83,214.33 L610.64,214.88 L611.46,215.41 L612.28,215.94 L613.11,216.46 L613.94,216.96 L614.77,217.46 L615.61,217.95 L616.46,218.44 L617.31,218.92 L618.17,219.38 L619.03,219.83 L619.90,220.27 L620.78,220.69 L621.66,221.10 L622.54,221.51 L623.43,221.91 L624.33,222.30 L625.24,222.67 L626.15,223.03 L627.06,223.36 L627.98,223.67 L628.90,223.95 L629.83,224.22 L630.77,224.48 L631.72,224.73 L632.66,224.96 L633.61,225.19 L634.57,225.40 L635.53,225.60 L636.48,225.78 L637.44,225.96 L638.40,226.11 L639.36,226.26 L640.32,226.40 L641.29,226.54 L642.25,226.66 L643.22,226.78 L644.19,226.89 L645.16,227.00 L646.12,227.11 L647.09,227.22 L648.06,227.32 L649.03,227.41 L650.00,227.50" stroke-dashoffset="7.06"/></g>
<text class="big" transform="translate(410.6,42.2) scale(0.86,1)">B</text>
<text class="lbl" x="539.3" y="256.6" text-anchor="middle">Correlation</text>
<text class="lbl" transform="translate(370.7,116.8) rotate(-90)" text-anchor="middle">Frequency</text>
<rect x="593.0" y="12.4" width="85.9" height="36.25" fill="#fff" stroke="#2e2e2e" stroke-width="1"/>
<path class="c" d="M598.1,22.1 H625.3"/>
<path class="c" stroke-dasharray="6.5 2.5" style="stroke-width:2.7" d="M600.7,38.7 H625.1"/>
<text class="lg" x="627.0" y="26.7">KB</text>
<text class="lg" x="627.2" y="44.3">Random</text>
<g id="ft"><rect x="34" y="240" width="4" height="3" fill="#fff"/><rect x="40" y="240" width="3" height="3" fill="#fff"/><rect x="319" y="240" width="3" height="3" fill="#fff"/><rect x="324" y="240" width="3" height="3" fill="#fff"/><rect x="29" y="193" width="3" height="3" fill="#fff"/><rect x="34" y="193" width="3" height="3" fill="#fff"/><rect x="394" y="240" width="3" height="3" fill="#fff"/><rect x="399" y="240" width="3" height="3" fill="#fff"/><rect x="678" y="240" width="4" height="3" fill="#fff"/><rect x="684" y="240" width="2" height="3" fill="#fff"/><rect x="388" y="186" width="3" height="3" fill="#fff"/><rect x="393" y="186" width="3" height="3" fill="#fff"/></g>
</svg>
</body></html>
